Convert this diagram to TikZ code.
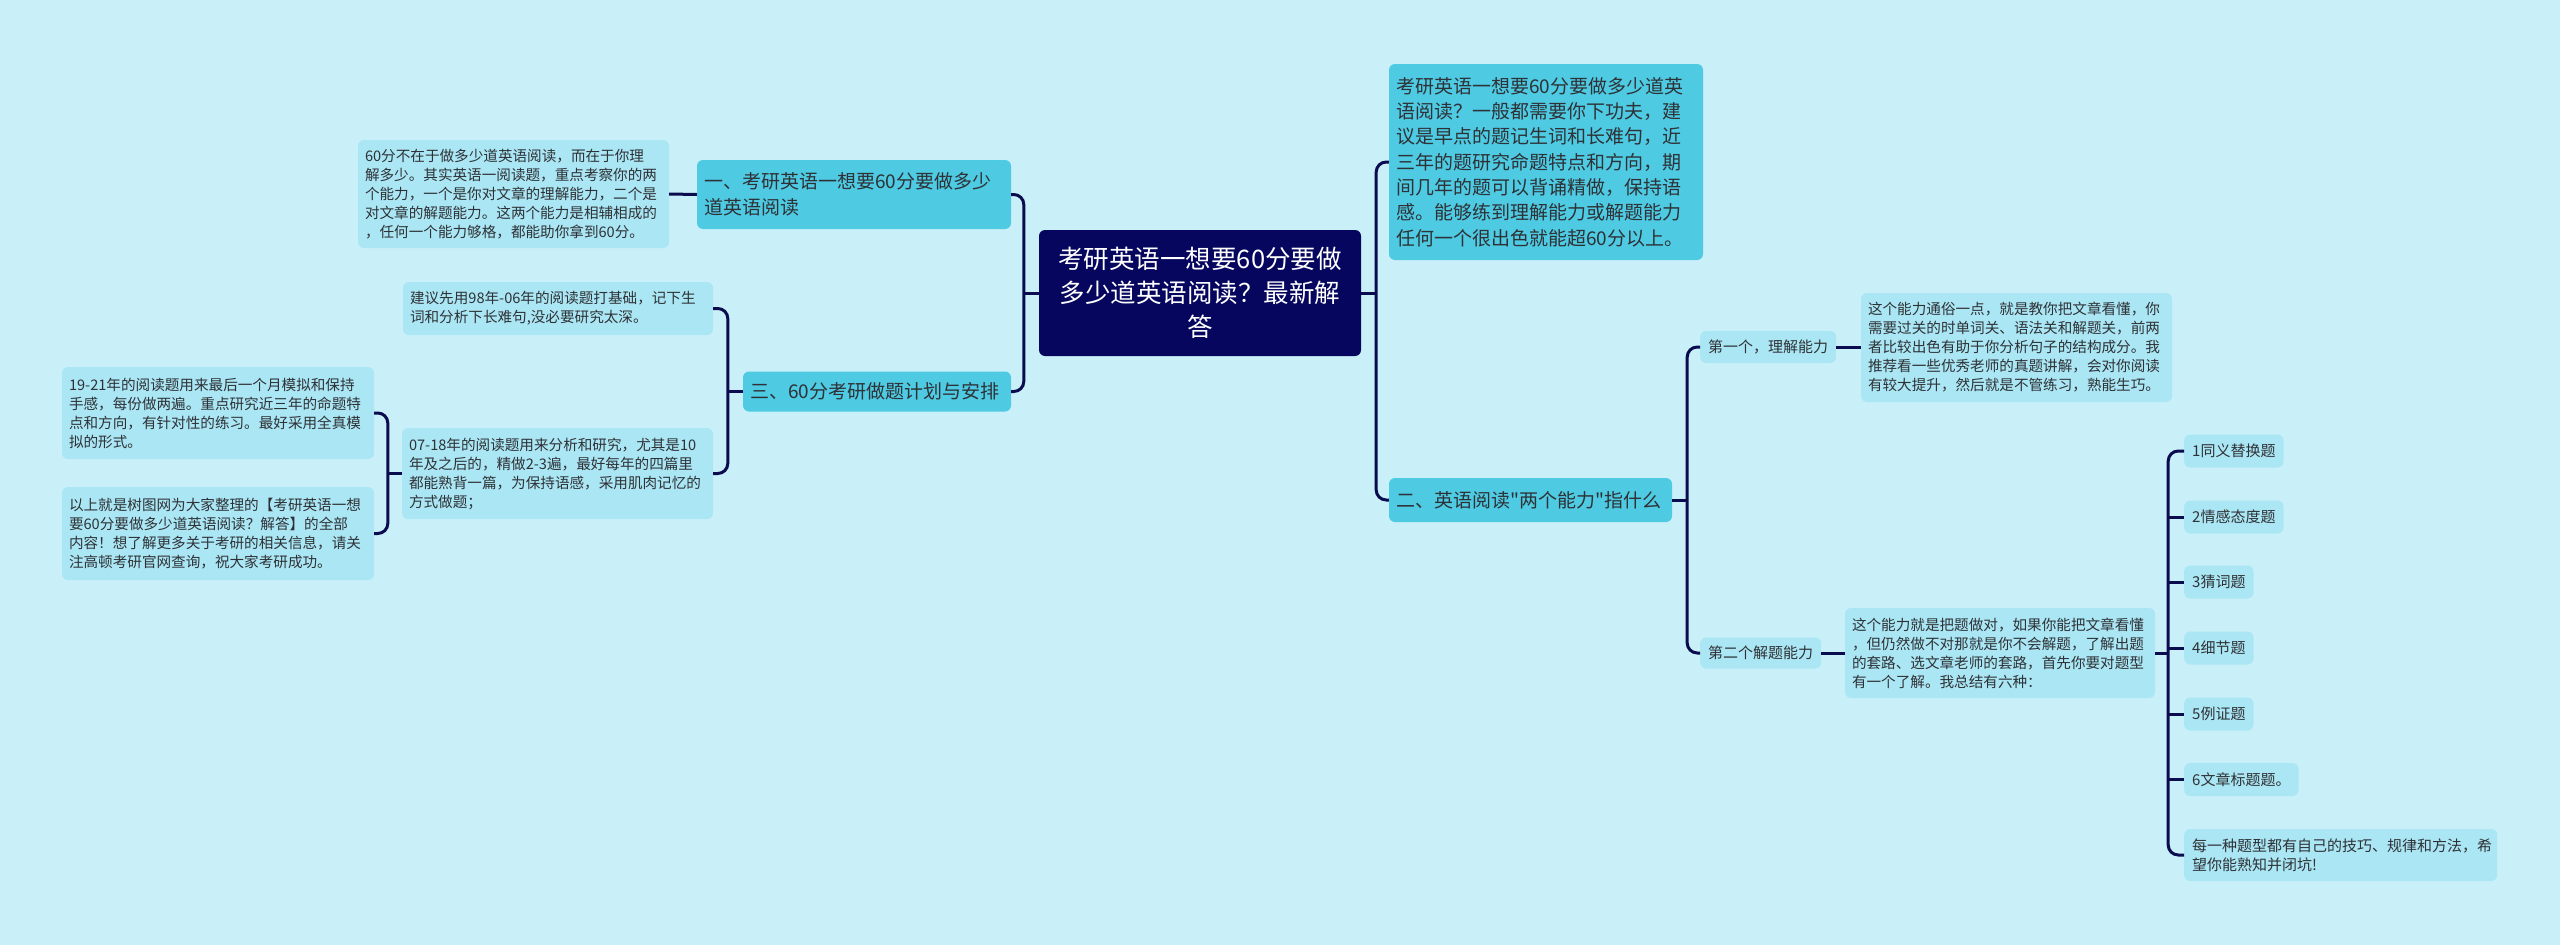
\documentclass[tikz,border=0pt]{standalone}
\usepackage{fontspec}
\setmainfont{Noto Sans CJK SC}[Ligatures=TeXOff]
\usetikzlibrary{calc}
\definecolor{bgc}{HTML}{C9F0F8}
\definecolor{rootc}{HTML}{06065F}
\definecolor{lonec}{HTML}{4ECAE3}
\definecolor{leafc}{HTML}{ABE6F4}
\definecolor{linec}{HTML}{0B0B50}
\definecolor{txtc}{HTML}{2E3236}
\tikzset{
  base/.style={rounded corners=6pt, inner xsep=7pt, inner ysep=0pt, align=left, text=txtc},
  rootbox/.style={base, fill=rootc, text=white, align=center, inner xsep=11pt, font=\fontsize{25.5}{34}\selectfont},
  lone/.style={base, fill=lonec, font=\fontsize{19}{25.5}\selectfont},
  leaf/.style={base, fill=leafc, font=\fontsize{14.6}{19}\selectfont},
  small/.style={base, fill=leafc, inner xsep=8pt, font=\fontsize{15}{19}\selectfont, anchor=west},
  conn/.style={draw=linec, line width=3pt, rounded corners=10pt}
}
\begin{document}
\begin{tikzpicture}[x=1pt,y=-1pt]
\fill[bgc] (0,0) rectangle (2560,945);
\useasboundingbox (0,0) rectangle (2560,945);

% root
\node[rootbox, text width=300pt, minimum height=126pt] (root) at (1200,293)
  {考研英语一想要60分要做\\多少道英语阅读？最新解\\答};

% left side
\node[lone, text width=300pt, minimum height=69pt] (n1) at (854,194.5)
  {一、考研英语一想要60分要做多少\\道英语阅读};
\node[leaf, text width=297pt, minimum height=108pt] (l1) at (513.5,194)
  {60分不在于做多少道英语阅读，而在于你理\\解多少。其实英语一阅读题，重点考察你的两\\个能力，一个是你对文章的理解能力，二个是\\对文章的解题能力。这两个能力是相辅相成的\\，任何一个能力够格，都能助你拿到60分。};
\node[lone, text width=254pt, minimum height=40pt] (n3) at (877,391.5)
  {三、60分考研做题计划与安排};
\node[leaf, text width=296pt, minimum height=53pt] (l31) at (558,308.5)
  {建议先用98年-06年的阅读题打基础，记下生\\词和分析下长难句,没必要研究太深。};
\node[leaf, text width=297pt, minimum height=91pt] (l32) at (557.5,473.5)
  {07-18年的阅读题用来分析和研究，尤其是10\\年及之后的，精做2-3遍，最好每年的四篇里\\都能熟背一篇，为保持语感，采用肌肉记忆的\\方式做题；};
\node[leaf, text width=298pt, minimum height=92pt] (l321) at (218,413)
  {19-21年的阅读题用来最后一个月模拟和保持\\手感，每份做两遍。重点研究近三年的命题特\\点和方向，有针对性的练习。最好采用全真模\\拟的形式。};
\node[leaf, text width=298pt, minimum height=93pt] (l322) at (218,533.5)
  {以上就是树图网为大家整理的【考研英语一想\\要60分要做多少道英语阅读？解答】的全部\\内容！想了解更多关于考研的相关信息，请关\\注高顿考研官网查询，祝大家考研成功。};

% right side
\node[lone, text width=300pt, minimum height=196pt, font=\fontsize{19}{25.3}\selectfont] (r1) at (1546,162)
  {考研英语一想要60分要做多少道英\\语阅读？一般都需要你下功夫，建\\议是早点的题记生词和长难句，近\\三年的题研究命题特点和方向，期\\间几年的题可以背诵精做，保持语\\感。能够练到理解能力或解题能力\\任何一个很出色就能超60分以上。};
\node[lone, text width=269pt, minimum height=44pt] (n2) at (1530.5,500)
  {二、英语阅读"两个能力"指什么};
\node[small, minimum height=32pt] (s1) at (1700,347) {第一个，理解能力};
\node[leaf, text width=297pt, minimum height=109pt] (s1l) at (2016.5,347.5)
  {这个能力通俗一点，就是教你把文章看懂，你\\需要过关的时单词关、语法关和解题关，前两\\者比较出色有助于你分析句子的结构成分。我\\推荐看一些优秀老师的真题讲解，会对你阅读\\有较大提升，然后就是不管练习，熟能生巧。};
\node[small, minimum height=31pt] (s2) at (1700,653) {第二个解题能力};
\node[leaf, text width=296pt, minimum height=90pt] (s2l) at (2000,653)
  {这个能力就是把题做对，如果你能把文章看懂\\，但仍然做不对那就是你不会解题，了解出题\\的套路、选文章老师的套路，首先你要对题型\\有一个了解。我总结有六种：};
\node[small, minimum height=33pt] (i1) at (2184,451) {1同义替换题};
\node[small, minimum height=33pt] (i2) at (2184,517) {2情感态度题};
\node[small, minimum height=33pt] (i3) at (2184,582) {3猜词题};
\node[small, minimum height=33pt] (i4) at (2184,648) {4细节题};
\node[small, minimum height=33pt] (i5) at (2184,714) {5例证题};
\node[small, minimum height=33pt] (i6) at (2184,779.5) {6文章标题题。};
\node[leaf, anchor=west, text width=297pt, minimum height=52pt, font=\fontsize{15}{19}\selectfont, inner xsep=8pt] (i7) at (2184,855)
  {每一种题型都有自己的技巧、规律和方法，希\\望你能熟知并闭坑!};

% bus coordinates
\coordinate (bL) at ($(root.west)+(-15,0)$);
\coordinate (bR) at ($(root.east)+(15,0)$);
\coordinate (b3) at ($(n3.west)+(-15,0)$);
\coordinate (b4) at ($(l32.west)+(-14,0)$);
\coordinate (b2) at ($(n2.east)+(15,0)$);
\coordinate (b5) at ($(s2l.east)+(13,0)$);

% connectors
\draw[conn] (root.west) -- (bL);
\draw[conn] (n1.east) -| (bL) |- (n3.east);
\draw[conn] (root.east) -- (bR);
\draw[conn] (r1.west) -| (bR) |- (n2.west);
\draw[conn] (n1.west) -- (l1.east);
\draw[conn] (n3.west) -- (b3);
\draw[conn] (l31.east) -| (b3) |- (l32.east);
\draw[conn] (l32.west) -- (b4);
\draw[conn] (l321.east) -| (b4) |- (l322.east);
\draw[conn] (n2.east) -- (b2);
\draw[conn] (s1.west) -| (b2) |- (s2.west);
\draw[conn] (s1.east) -- (s1.east -| s1l.west);
\draw[conn] (s2.east) -- (s2.east -| s2l.west);
\draw[conn] (s2l.east) -- (b5);
\draw[conn] (i1.west) -| (b5) |- (i7.west);
\draw[conn] (i2.west) -- (i2.west -| b5);
\draw[conn] (i3.west) -- (i3.west -| b5);
\draw[conn] (i4.west) -- (i4.west -| b5);
\draw[conn] (i5.west) -- (i5.west -| b5);
\draw[conn] (i6.west) -- (i6.west -| b5);
\end{tikzpicture}
\end{document}
